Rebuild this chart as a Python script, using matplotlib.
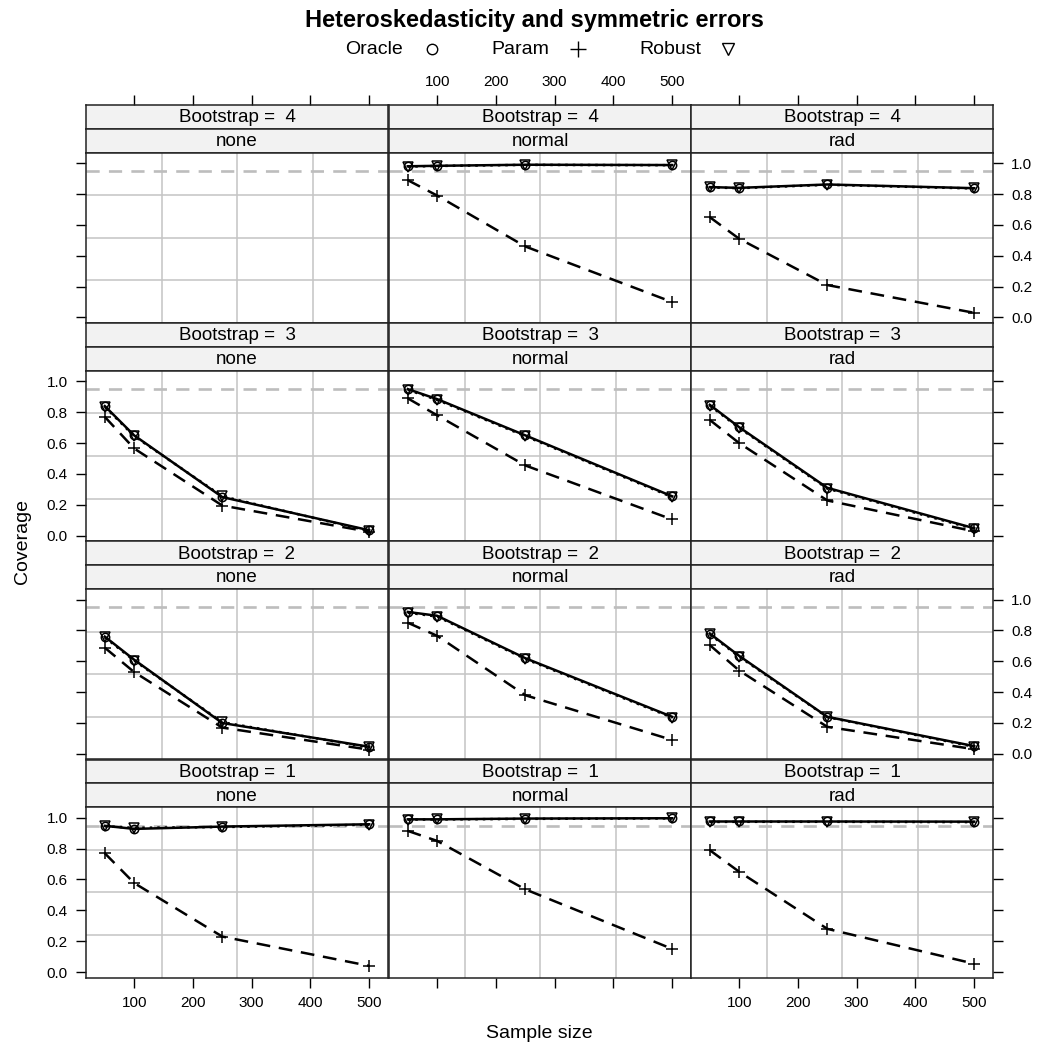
import matplotlib
matplotlib.use("Agg")
import matplotlib.pyplot as plt
import numpy as np

plt.rcParams['font.family'] = ['Liberation Sans', 'DejaVu Sans']

# ---------------- data ----------------
sample_sizes = [50, 100, 250, 500]
bootstrap_levels = [4, 3, 2, 1]          # panel rows, top to bottom
methods = ['none', 'normal', 'rad']      # panel columns
series_names = ['Oracle', 'Param', 'Robust']

# each: [none, normal, rad]; None = no data
oracle_b4 = [None, [0.980, 0.983, 0.990, 0.988], [0.845, 0.840, 0.862, 0.838]]
param_b4 = [None, [0.890, 0.790, 0.460, 0.100], [0.650, 0.510, 0.210, 0.030]]
robust_b4 = [None, [0.978, 0.982, 0.989, 0.987], [0.843, 0.838, 0.860, 0.836]]

oracle_b3 = [[0.840, 0.650, 0.250, 0.035], [0.950, 0.885, 0.650, 0.255], [0.848, 0.703, 0.310, 0.048]]
param_b3 = [[0.770, 0.565, 0.195, 0.025], [0.890, 0.780, 0.455, 0.105], [0.750, 0.600, 0.228, 0.028]]
robust_b3 = [[0.835, 0.645, 0.255, 0.030], [0.945, 0.880, 0.645, 0.250], [0.843, 0.698, 0.305, 0.043]]

oracle_b2 = [[0.760, 0.610, 0.200, 0.046], [0.920, 0.895, 0.620, 0.240], [0.780, 0.635, 0.240, 0.050]]
param_b2 = [[0.688, 0.530, 0.170, 0.027], [0.850, 0.765, 0.380, 0.090], [0.705, 0.540, 0.175, 0.030]]
robust_b2 = [[0.755, 0.605, 0.205, 0.042], [0.915, 0.890, 0.615, 0.235], [0.775, 0.630, 0.238, 0.046]]

oracle_b1 = [[0.948, 0.928, 0.943, 0.958], [0.990, 0.990, 0.995, 0.997], [0.976, 0.976, 0.976, 0.975]]
param_b1 = [[0.770, 0.577, 0.230, 0.040], [0.915, 0.850, 0.536, 0.150], [0.790, 0.650, 0.280, 0.054]]
robust_b1 = [[0.945, 0.935, 0.940, 0.955], [0.988, 0.989, 0.993, 0.996], [0.973, 0.974, 0.974, 0.972]]

target_coverage = 0.95
x_ticks = [100, 200, 300, 400, 500]
y_ticks = [0.0, 0.2, 0.4, 0.6, 0.8, 1.0]

oracle_rows = [oracle_b4, oracle_b3, oracle_b2, oracle_b1]
param_rows = [param_b4, param_b3, param_b2, param_b1]
robust_rows = [robust_b4, robust_b3, robust_b2, robust_b1]

# ---------------- layout (pixels) ----------------
W, H = 1040, 1050
fig = plt.figure(figsize=(W / 100, H / 100), dpi=100)

col_left = [86, 389, 691]
col_w = 302
row_pitch = 218.2
strip_top0 = 105
strip_h = 23.85
plot_h = 170.3

xlim = (18, 532)
ylim = (-0.036, 1.068)

def fr(x, y, w, h):
    return [x / W, 1 - (y + h) / H, w / W, h / H]

FS_TICK = 11
FS_STRIP = 13.5
TICK_LEN = 7.0
TICK_PAD = 6.0
border_col = '#222222'
strip_bg = '#f2f2f2'

styles = {
    'Oracle': dict(marker='o', ls='-', ms=6),
    'Param': dict(marker='+', ls=(0, (5.5, 3.5)), ms=9),
    'Robust': dict(marker='v', ls=(0, (1, 2)), ms=6.5),
}

for r, boot in enumerate(bootstrap_levels):
    strip_top = strip_top0 + r * row_pitch
    plot_top = strip_top + 2 * strip_h
    for c, meth in enumerate(methods):
        x0 = col_left[c]
        # strips
        for k, label in enumerate([f'Bootstrap =  {boot}', meth]):
            sax = fig.add_axes(fr(x0, strip_top + k * strip_h, col_w, strip_h))
            sax.set_facecolor(strip_bg)
            sax.set_xlim(*xlim)
            sax.set_ylim(0, 1)
            sax.set_yticks([])
            sax.text(0.5, 0.47, label, transform=sax.transAxes, ha='center',
                     va='center', fontsize=FS_STRIP)
            for sp in sax.spines.values():
                sp.set_color(border_col)
                sp.set_linewidth(1.1)
            if r == 0 and k == 0:
                sax.xaxis.set_ticks_position('top')
                sax.set_xticks(x_ticks)
                sax.tick_params(axis='x', direction='out', length=TICK_LEN,
                                width=1, pad=4.5, labelsize=FS_TICK,
                                labeltop=(c == 1), labelbottom=False,
                                colors='black')
            else:
                sax.set_xticks([])
        # panel
        ax = fig.add_axes(fr(x0, plot_top, col_w, plot_h))
        ax.set_xlim(*xlim)
        ax.set_ylim(*ylim)
        for sp in ax.spines.values():
            sp.set_color(border_col)
            sp.set_linewidth(1.1)
        # grid: 3 equally spaced lines each way
        for g in np.linspace(xlim[0], xlim[1], 5)[1:-1]:
            ax.axvline(g, color='#c4c4c4', lw=1.1, zorder=1)
        for g in np.linspace(ylim[0], ylim[1], 5)[1:-1]:
            ax.axhline(g, color='#c4c4c4', lw=1.1, zorder=1)
        ax.axhline(target_coverage, color='#bdbdbd', lw=1.9,
                   ls=(0, (5, 3.5)), zorder=2)

        series = {'Oracle': oracle_rows[r][c], 'Param': param_rows[r][c],
                  'Robust': robust_rows[r][c]}
        for name in series_names:
            vals = series[name]
            if vals is None:
                continue
            st = styles[name]
            ax.plot(sample_sizes, vals, color='black', lw=1.8, ls=st['ls'],
                    zorder=3)
            ax.plot(sample_sizes, vals, color='black', lw=0, marker=st['marker'],
                    ms=st['ms'], mfc='none', mec='black', mew=1.1, zorder=4)

        # x ticks (bottom row only)
        if r == 3:
            ax.set_xticks(x_ticks)
            ax.tick_params(axis='x', direction='out', length=TICK_LEN, width=1,
                           pad=TICK_PAD, labelsize=FS_TICK,
                           labelbottom=(c != 1))
        else:
            ax.set_xticks([])
        # y ticks
        if c == 0 or c == 2:
            ax.set_yticks(y_ticks)
            ax.set_yticklabels([f'{v:.1f}' for v in y_ticks])
            left_lab = (c == 0 and r in (1, 3))
            right_lab = (c == 2 and r in (0, 2))
            ax.tick_params(axis='y', direction='out', length=TICK_LEN, width=1,
                           pad=TICK_PAD, labelsize=FS_TICK,
                           left=(c == 0), right=(c == 2),
                           labelleft=left_lab, labelright=right_lab)
        else:
            ax.set_yticks([])

# ---------------- titles, labels, key ----------------
fig.text(534 / W, 1 - 20 / H, 'Heteroskedasticity and symmetric errors',
         ha='center', va='center', fontsize=17, fontweight='bold')
fig.text(539.5 / W, 1 - 1034 / H, 'Sample size', ha='center', va='center',
         fontsize=14)
fig.text(22 / W, 1 - 541 / H, 'Coverage', ha='center', va='center',
         rotation=90, fontsize=14)

key_ax = fig.add_axes([0, 0, 1, 1], facecolor='none')
key_ax.set_xlim(0, W)
key_ax.set_ylim(H, 0)
key_ax.axis('off')
key_text_x = [374, 520.5, 670]
key_mark_x = [432, 578, 728]
key_y = 49
key_ms = {'Oracle': 7.5, 'Param': 12, 'Robust': 8}
for name, tx, mx in zip(series_names, key_text_x, key_mark_x):
    key_ax.text(tx, key_y, name, ha='center', va='center', fontsize=14)
    key_ax.plot([mx], [key_y], marker=styles[name]['marker'], ms=key_ms[name],
                mfc='none', mec='black', mew=1.0, lw=0)

fig.savefig('out.png', dpi=100)
